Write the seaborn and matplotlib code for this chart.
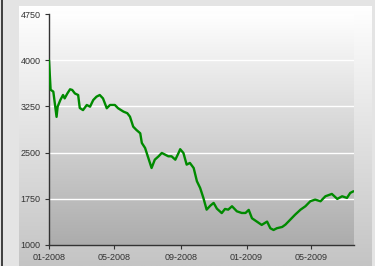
import numpy as np
import pandas as pd
import matplotlib
matplotlib.use("Agg")
import matplotlib.pyplot as plt
import matplotlib.dates as mdates
import seaborn as sns

dates = ["2008-01-01", "2008-01-04", "2008-01-09", "2008-01-15", "2008-01-17", "2008-01-22",
         "2008-01-27", "2008-01-30", "2008-02-04", "2008-02-09", "2008-02-13", "2008-02-18",
         "2008-02-24", "2008-02-27", "2008-03-04", "2008-03-11", "2008-03-17", "2008-03-23",
         "2008-03-29", "2008-04-04", "2008-04-10", "2008-04-17", "2008-04-23", "2008-05-02",
         "2008-05-08", "2008-05-18", "2008-05-25", "2008-05-30", "2008-06-05", "2008-06-11",
         "2008-06-18", "2008-06-21", "2008-06-27", "2008-07-03", "2008-07-09", "2008-07-15",
         "2008-07-22", "2008-07-28", "2008-08-03", "2008-08-09", "2008-08-15", "2008-08-22",
         "2008-08-28", "2008-08-31", "2008-09-06", "2008-09-12", "2008-09-18", "2008-09-25",
         "2008-10-01", "2008-10-07", "2008-10-10", "2008-10-13", "2008-10-19", "2008-10-26",
         "2008-11-01", "2008-11-07", "2008-11-16", "2008-11-22", "2008-11-28", "2008-12-05",
         "2008-12-14", "2008-12-23", "2008-12-30", "2009-01-05", "2009-01-11", "2009-01-20",
         "2009-01-29", "2009-02-08", "2009-02-14", "2009-02-20", "2009-02-26", "2009-03-08",
         "2009-03-14", "2009-03-23", "2009-04-01", "2009-04-11", "2009-04-20", "2009-04-29",
         "2009-05-08", "2009-05-18", "2009-05-27", "2009-06-08", "2009-06-18", "2009-06-27",
         "2009-07-06", "2009-07-12", "2009-07-18"]
values = [4000, 3520, 3490, 3080, 3245, 3354,
          3435, 3380, 3460, 3528, 3517, 3460,
          3435, 3224, 3190, 3273, 3245, 3354,
          3408, 3435, 3380, 3220, 3273, 3273,
          3220, 3165, 3140, 3083, 2921, 2867,
          2814, 2656, 2575, 2413, 2250, 2385,
          2440, 2494, 2467, 2440, 2440, 2385,
          2494, 2555, 2494, 2305, 2332, 2250,
          2035, 1926, 1845, 1764, 1574, 1640,
          1683, 1590, 1518, 1585, 1574, 1629,
          1547, 1520, 1520, 1570, 1434, 1380,
          1326, 1380, 1272, 1244, 1272, 1293,
          1331, 1412, 1493, 1574, 1629, 1710,
          1737, 1710, 1791, 1829, 1748, 1791,
          1764, 1845, 1872]
y_ticks = [1000, 1750, 2500, 3250, 4000, 4750]
x_ticks = ["2008-01-01", "2008-05-01", "2008-09-01", "2009-01-01", "2009-05-01"]

df = pd.DataFrame({"date": pd.to_datetime(dates), "value": values})

sns.set_theme(style="white")
plt.rcParams["font.family"] = ["Liberation Sans", "DejaVu Sans"]

W, H = 375, 266
fig = plt.figure(figsize=(W / 100, H / 100), dpi=100)
fig.patch.set_facecolor("#e4e4e4")

# outer panel gradient
pan = fig.add_axes([19 / W, 0, (372 - 19) / W, (H - 6) / H], zorder=0)
g = np.linspace(1.0, 0.0, 256).reshape(-1, 1)
pan.imshow(g, aspect="auto", cmap=matplotlib.colors.LinearSegmentedColormap.from_list(
    "p", ["#c4c4c4", "#ffffff"]), extent=[0, 1, 0, 1], vmin=0, vmax=1)
pan.set_axis_off()

# left dark border
fig.add_artist(plt.Line2D([1.5 / W, 1.5 / W], [0, 1], color="#222222", lw=1.2,
                          transform=fig.transFigure))

ax = fig.add_axes([49 / W, (H - 245) / H, (354 - 49) / W, (245 - 14) / H], zorder=1)
ax.imshow(g, aspect="auto", cmap=matplotlib.colors.LinearSegmentedColormap.from_list(
    "a", ["#acacac", "#d6d6d6", "#ffffff"]), extent=[0, 1, 0, 1],
    transform=ax.transAxes, zorder=0, vmin=0, vmax=1)

sns.lineplot(data=df, x="date", y="value", ax=ax, color="#008a00", lw=1.7, zorder=3)

ax.set_xlim(pd.Timestamp("2008-01-01"), pd.Timestamp("2009-07-19"))
ax.set_ylim(1000, 4750)
ax.set_yticks(y_ticks)
ax.set_xticks(pd.to_datetime(x_ticks))
ax.xaxis.set_major_formatter(mdates.DateFormatter("%m-%Y"))
for v in y_ticks[1:-1]:
    ax.axhline(v, color="white", lw=1.0, zorder=1)
ax.set_xlabel("")
ax.set_ylabel("")
for s in ["top", "right"]:
    ax.spines[s].set_visible(False)
for s in ["left", "bottom"]:
    ax.spines[s].set_color("#333333")
    ax.spines[s].set_linewidth(1.0)
ax.tick_params(axis="both", which="major", direction="out", length=3, width=0.8,
               color="#333333", labelsize=6.5, labelcolor="#333333", pad=3,
               left=True, bottom=True)
ax.set_facecolor("none")

fig.savefig("out.png", dpi=100, facecolor=fig.get_facecolor())
